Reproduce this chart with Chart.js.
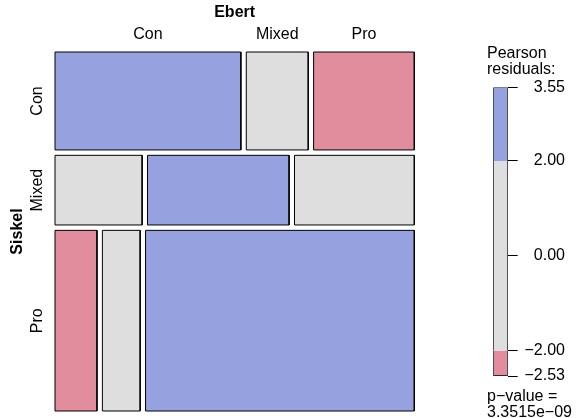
<!DOCTYPE html>
<html>
<head>
<meta charset="utf-8">
<script src="https://cdn.jsdelivr.net/npm/chart.js@4"></script>
<style>
  body { margin: 0; background: #fff; }
  #wrap { position: relative; width: 576px; height: 418px; font-family: 'Liberation Sans', Arial, sans-serif; font-size: 16px; color: #000; }
  canvas { position: absolute; left: 0; top: 0; }
  .note { position: absolute; left: 487px; line-height: 16px; white-space: nowrap; }
</style>
</head>
<body>
<div id="wrap">
  <canvas id="mosaic" width="576" height="418"></canvas>
  <canvas id="key" width="576" height="418"></canvas>
  <div class="note" id="keyTitle" style="top:45px"></div>
  <div class="note" id="pval" style="top:388px"></div>
</div>
<script>
//Siskel & Ebert ratings
const siskel = ['Con', 'Mixed', 'Pro'];
const ebert = ['Con', 'Mixed', 'Pro'];
const counts = [
    [24, 8, 13],
    [8, 13, 11],
    [10, 9, 64]
];
const keyTicks = [-2.53, -2, 0, 2, 3.55];
const pValue = '3.3515e\u221209';

const blue = '#96a2e0';
const grey = '#dedede';
const red = '#e18d9d';
const gap = 0.015;

Chart.defaults.font.family = "'Liberation Sans', Arial, sans-serif";
Chart.defaults.font.size = 16;
Chart.defaults.color = '#000';

document.getElementById('keyTitle').innerHTML = 'Pearson<br>residuals:';
document.getElementById('pval').innerHTML = 'p\u2212value =<br>' + pValue;

//Table margins and residuals
const total = counts.flat().reduce((a, b) => a + b, 0);
const rowTot = counts.map(r => r.reduce((a, b) => a + b, 0));
const colTot = ebert.map((_, j) => counts.reduce((a, r) => a + r[j], 0));

function shade(i, j) {
    const e = rowTot[i] * colTot[j] / total;
    const r = (counts[i][j] - e) / Math.sqrt(e);
    if (r > 2) return blue;
    if (r < -2) return red;
    return grey;
}

//Mosaic tiles in unit space
const cells = [];
const rowMid = [];
let y = 0;
counts.forEach((row, i) => {
    const h = (1 - gap * (siskel.length - 1)) * rowTot[i] / total;
    let x = 0;
    row.forEach((c, j) => {
        const w = (1 - gap * (ebert.length - 1)) * c / rowTot[i];
        cells.push({ i: i, j: j, x0: x, x1: x + w, y0: y, y1: y + h });
        x += w + gap;
    });
    rowMid.push(y + h / 2);
    y += h + gap;
});
const colMid = cells.filter(c => c.i === 0).map(c => (c.x0 + c.x1) / 2);

new Chart(document.getElementById('mosaic'), {
    type: 'scatter',
    data: {
        datasets: cells.map(c => ({
            data: [
                { x: c.x0, y: c.y0 }, { x: c.x1, y: c.y0 },
                { x: c.x1, y: c.y1 }, { x: c.x0, y: c.y1 },
                { x: c.x0, y: c.y0 }
            ],
            showLine: true,
            fill: 'shape',
            backgroundColor: shade(c.i, c.j),
            borderColor: '#000',
            borderWidth: 1,
            borderJoinStyle: 'miter',
            pointRadius: 0,
            pointHoverRadius: 0,
            tension: 0,
            clip: false
        }))
    },
    options: {
        responsive: false,
        animation: false,
        events: [],
        layout: { padding: { top: 0, left: 0, right: 161.7, bottom: 7 } },
        plugins: { legend: { display: false }, tooltip: { enabled: false } },
        scales: {
            x: {
                type: 'linear',
                position: 'top',
                min: 0,
                max: 1,
                grid: { display: false, drawTicks: false },
                border: { display: false },
                afterBuildTicks: s => { s.ticks = colMid.map(v => ({ value: v })); },
                afterFit: s => { s.height = 52; },
                ticks: { callback: (v, i) => ebert[i], padding: 8, autoSkip: false, maxRotation: 0 },
                title: { display: true, text: 'Ebert', font: { weight: 'bold' }, padding: { top: 3, bottom: 0 } }
            },
            y: {
                type: 'linear',
                position: 'left',
                reverse: true,
                min: 0,
                max: 1,
                grid: { display: false, drawTicks: false },
                border: { display: false },
                afterBuildTicks: s => { s.ticks = rowMid.map(v => ({ value: v })); },
                afterFit: s => { s.width = 55; },
                ticks: { callback: (v, i) => siskel[i], minRotation: 90, maxRotation: 90, crossAlign: 'center', padding: -4, autoSkip: false },
                title: { display: true, text: 'Siskel', font: { weight: 'bold' }, padding: { top: 8, bottom: 0 } }
            }
        }
    }
});

//Shading legend
new Chart(document.getElementById('key'), {
    type: 'bar',
    data: {
        labels: [''],
        datasets: [
            { data: [[keyTicks[0], -2]], backgroundColor: red, borderWidth: { left: 1, right: 1, bottom: 1, top: 0 } },
            { data: [[-2, 2]], backgroundColor: grey, borderWidth: { left: 1, right: 1, bottom: 0, top: 0 } },
            { data: [[2, keyTicks[keyTicks.length - 1]]], backgroundColor: blue, borderWidth: { left: 1, right: 1, bottom: 0, top: 1 } }
        ]
    },
    options: {
        responsive: false,
        animation: false,
        events: [],
        layout: { padding: { left: 493.3, right: 11, top: 87.4, bottom: 42 } },
        datasets: { bar: { grouped: false, barPercentage: 1, categoryPercentage: 1, borderColor: '#000', borderSkipped: false } },
        plugins: { legend: { display: false }, tooltip: { enabled: false } },
        scales: {
            x: { display: false },
            y: {
                position: 'right',
                min: keyTicks[0],
                max: keyTicks[keyTicks.length - 1],
                afterBuildTicks: s => { s.ticks = keyTicks.map(v => ({ value: v })); },
                afterFit: s => { s.width = 57.3; },
                grid: { drawOnChartArea: false, drawTicks: true, tickLength: 10, color: '#000' },
                border: { display: false },
                ticks: {
                    crossAlign: 'far',
                    padding: 6,
                    autoSkip: false,
                    callback: v => (v < 0 ? '\u2212' : '') + Math.abs(v).toFixed(2)
                }
            }
        }
    }
});
</script>
</body>
</html>
